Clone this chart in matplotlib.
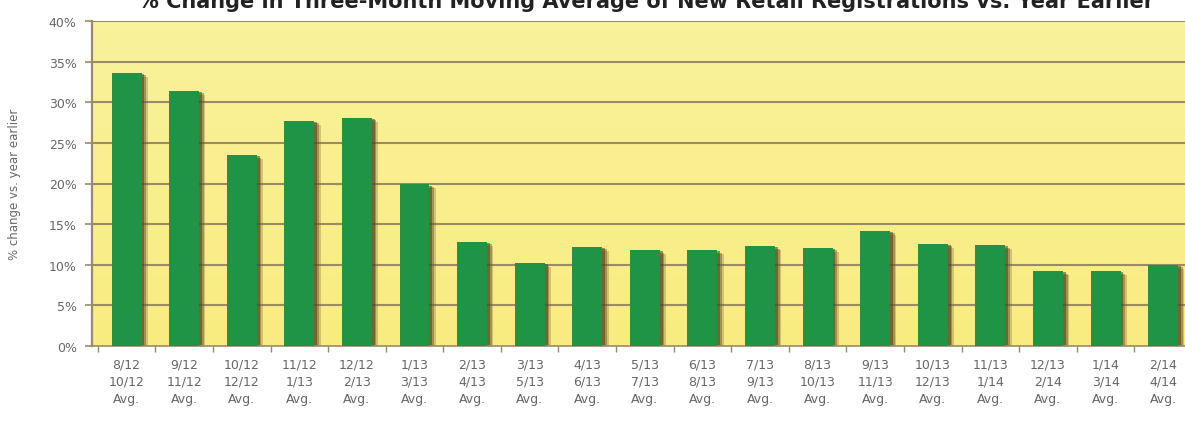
import matplotlib
matplotlib.use("Agg")
import matplotlib.pyplot as plt
import numpy as np
from matplotlib.colors import LinearSegmentedColormap

start_months = ["8/12", "9/12", "10/12", "11/12", "12/12", "1/13", "2/13", "3/13", "4/13", "5/13",
                "6/13", "7/13", "8/13", "9/13", "10/13", "11/13", "12/13", "1/14", "2/14"]
end_months = ["10/12", "11/12", "12/12", "1/13", "2/13", "3/13", "4/13", "5/13", "6/13", "7/13",
              "8/13", "9/13", "10/13", "11/13", "12/13", "1/14", "2/14", "3/14", "4/14"]
values = [33.6, 31.4, 23.5, 27.7, 28.1, 19.9, 12.8, 10.2, 12.2, 11.8,
          11.8, 12.3, 12.1, 14.2, 12.6, 12.4, 9.2, 9.2, 10.0]
yticks = [0, 5, 10, 15, 20, 25, 30, 35, 40]

labels = [f"{a}\n{b}\nAvg." for a, b in zip(start_months, end_months)]

W, H = 1185, 431
fig = plt.figure(figsize=(W / 100, H / 100), dpi=100)
fig.patch.set_facecolor("white")

left = 92 / W
bottom = 1 - 347 / H
top = 1 - 22 / H
ax = fig.add_axes([left, bottom, 1 - left, top - bottom])

x = np.arange(len(values))
xmin, xmax = -0.6, len(values) - 0.62
ax.set_xlim(xmin, xmax)
ax.set_ylim(0, 40)

# background gradient
grad = np.linspace(0, 1, 256).reshape(-1, 1)
cmap = LinearSegmentedColormap.from_list("bg", ["#f8ec80", "#faf29c"])
ax.imshow(grad, extent=[xmin, xmax, 0, 40], aspect="auto", cmap=cmap,
          origin="lower", zorder=0)

grid_c = "#9a8c62"
for yv in yticks[1:]:
    ax.axhline(yv, color=grid_c, lw=1.5, zorder=1)

bw = 0.52
vals = np.array(values)
# soft shadow
ax.bar(x + 0.11, vals - 0.5, width=bw, color="#7a6830", alpha=0.30, zorder=2)
ax.bar(x + 0.08, vals - 0.3, width=bw, color="#6a5626", alpha=0.45, zorder=2)
ax.bar(x + 0.05, vals - 0.15, width=bw, color="#4f3f18", alpha=0.55, zorder=2)
ax.bar(x, vals, width=bw, color="#1f9447", zorder=3)

ax.set_yticks(yticks)
ax.set_yticklabels([f"{v}%" for v in yticks], color="#666666", fontsize=9)
ax.set_xticks(x)
ax.set_xticklabels(labels, color="#666666", fontsize=9, linespacing=1.45)
ax.tick_params(axis="x", length=0, pad=8)
ax.tick_params(axis="y", length=5, color=grid_c, width=1.2, pad=6)
ax.set_xticks(np.arange(len(values)) - 0.5, minor=True)
ax.tick_params(axis="x", which="minor", length=4, color=grid_c, width=1)

for s in ["top", "right"]:
    ax.spines[s].set_visible(False)
ax.spines["left"].set_color(grid_c)
ax.spines["left"].set_linewidth(1.6)
ax.spines["bottom"].set_color(grid_c)
ax.spines["bottom"].set_linewidth(1.2)

ax.set_ylabel("% change vs. year earlier", color="#666666", fontsize=8.5, labelpad=20)

fig.text(0.545, 1 - 8 / H,
         "% Change in Three-Month Moving Average of New Retail Registrations vs. Year Earlier",
         ha="center", va="baseline", fontsize=15, fontweight="bold", color="#222222")

fig.savefig("out.png", dpi=100)
